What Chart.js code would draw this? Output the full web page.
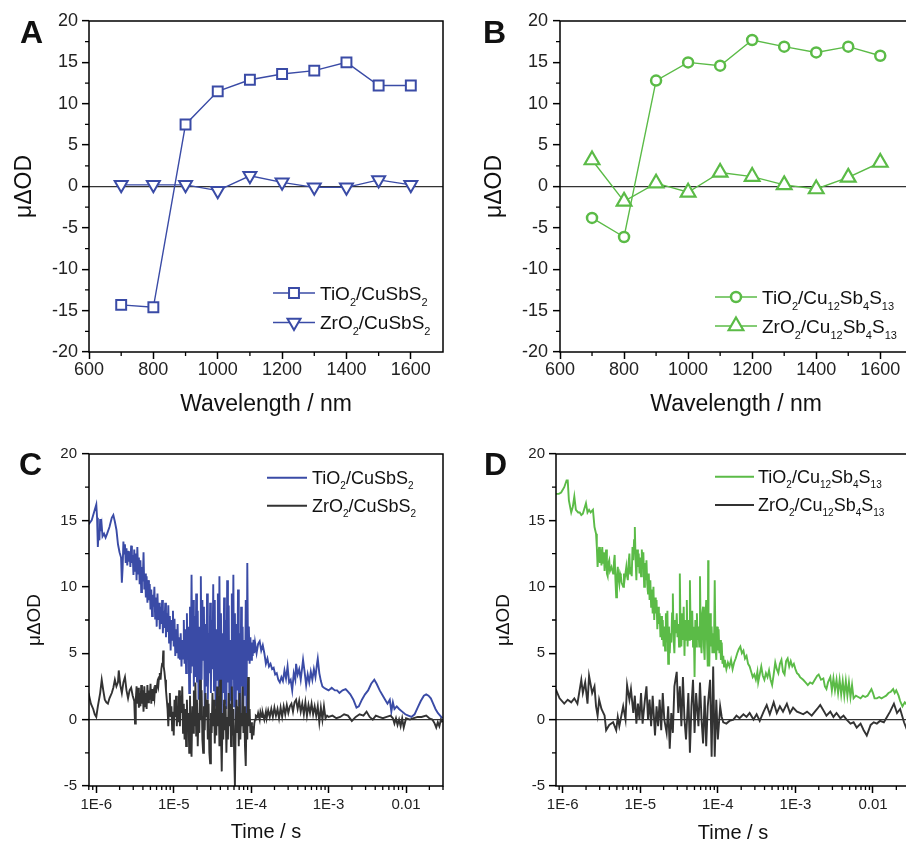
<!DOCTYPE html>
<html><head><meta charset="utf-8">
<script src="https://cdn.jsdelivr.net/npm/chart.js@4.4.1/dist/chart.umd.min.js"></script>
<style>
html,body{margin:0;padding:0;background:#fff;overflow:hidden;width:906px;height:843px;position:relative;}
.p{position:absolute;}
.p canvas{display:block;}
.lab{position:absolute;font:bold 32px 'Liberation Sans',Arial,sans-serif;line-height:32px;color:#111;}
</style></head><body>
<div class="p" style="left:0;top:0;width:453px;height:420px"><canvas id="cA" width="453" height="420"></canvas></div>
<div class="p" style="left:453px;top:0;width:470px;height:420px"><canvas id="cB" width="470" height="420"></canvas></div>
<div class="p" style="left:0;top:420px;width:453px;height:430px"><canvas id="cC" width="453" height="430"></canvas></div>
<div class="p" style="left:453px;top:420px;width:470px;height:430px"><canvas id="cD" width="470" height="430"></canvas></div>
<div class="lab" style="left:20px;top:16px">A</div>
<div class="lab" style="left:483px;top:16px">B</div>
<div class="lab" style="left:19px;top:448px">C</div>
<div class="lab" style="left:484px;top:448px">D</div>
<script>
// ---------- data ----------
const wavelengths = [700, 800, 900, 1000, 1100, 1200, 1300, 1400, 1500, 1600];
const A_TiO2 = [-14.3, -14.6, 7.5, 11.5, 12.9, 13.6, 14.0, 15.0, 12.2, 12.2];
const A_ZrO2 = [0.2, 0.2, 0.2, -0.5, 1.3, 0.5, -0.1, -0.1, 0.8, 0.2];
const B_TiO2 = [-3.8, -6.1, 12.8, 15.0, 14.6, 17.7, 16.9, 16.2, 16.9, 15.8];
const B_ZrO2 = [3.2, -1.8, 0.4, -0.7, 1.7, 1.2, 0.2, -0.3, 1.1, 2.9];

const wlTicks = [600, 800, 1000, 1200, 1400, 1600];
const wlMinor = [700, 900, 1100, 1300, 1500];
const odTicksAB = [-20, -15, -10, -5, 0, 5, 10, 15, 20];
const odMinorAB = [-17.5, -12.5, -7.5, -2.5, 2.5, 7.5, 12.5, 17.5];
const odTicksCD = [-5, 0, 5, 10, 15, 20];
const odMinorCD = [-2.5, 2.5, 7.5, 12.5, 17.5];
const timeTicks = [1e-6, 1e-5, 1e-4, 1e-3, 0.01];
const timeTickLabels = ['1E-6', '1E-5', '1E-4', '1E-3', '0.01'];

const labelsCuSbS2 = ['TiO_2/CuSbS_2', 'ZrO_2/CuSbS_2'];
const labelsCu12 = ['TiO_2/Cu_12Sb_4S_13', 'ZrO_2/Cu_12Sb_4S_13'];

// transient traces: [log10(time / s), µΔOD]
const C_TiO2 = [[-6.10,14.7],[-6.06,15.0],[-6.03,15.6],[-6.00,16.2],[-5.99,15.2],[-5.98,13.0],[-5.97,14.2],[-5.96,13.5],[-5.95,15.1],[-5.94,14.2],[-5.93,14.6],[-5.92,13.8],[-5.90,14.0],[-5.88,13.7],[-5.86,14.0],[-5.83,14.5],[-5.80,15.2],[-5.78,15.4],[-5.76,14.9],[-5.74,14.3],[-5.72,13.2],[-5.70,12.6],[-5.68,12.2],[-5.67,10.3],[-5.66,11.4],[-5.65,13.4],[-5.64,12.5],[-5.63,13.2],[-5.62,11.8],[-5.61,12.9],[-5.60,11.6],[-5.59,12.7],[-5.58,11.9],[-5.57,12.6],[-5.56,11.5],[-5.55,13.1],[-5.54,11.8],[-5.53,12.4],[-5.52,10.9],[-5.51,12.8],[-5.50,11.2],[-5.49,12.5],[-5.48,10.5],[-5.47,13.0],[-5.46,11.0],[-5.45,12.2],[-5.44,10.2],[-5.43,12.0],[-5.42,9.6],[-5.41,11.5],[-5.40,10.4],[-5.39,12.6],[-5.38,9.8],[-5.37,11.0],[-5.36,9.2],[-5.35,10.8],[-5.34,8.8],[-5.33,10.5],[-5.32,9.0],[-5.31,10.2],[-5.30,8.3],[-5.29,9.8],[-5.28,7.8],[-5.27,9.4],[-5.26,8.5],[-5.25,10.0],[-5.24,7.6],[-5.23,9.2],[-5.22,7.0],[-5.21,9.5],[-5.20,7.5],[-5.19,8.8],[-5.18,6.8],[-5.17,8.5],[-5.16,7.2],[-5.15,9.0],[-5.14,6.5],[-5.13,8.2],[-5.12,6.9],[-5.11,8.8],[-5.10,6.2],[-5.09,8.0],[-5.08,6.6],[-5.07,8.6],[-5.06,5.8],[-5.05,7.8],[-5.04,5.2],[-5.03,7.5],[-5.02,6.0],[-5.01,8.2],[-5.00,5.5],[-4.99,7.6],[-4.98,4.8],[-4.97,6.8],[-4.96,5.0],[-4.95,7.2],[-4.94,4.6],[-4.93,6.2],[-4.92,4.5],[-4.91,6.5],[-4.90,4.0],[-4.89,6.0],[-4.88,4.6],[-4.87,7.5],[-4.86,4.2],[-4.85,6.8],[-4.84,3.5],[-4.83,8.0],[-4.82,4.5],[-4.81,7.0],[-4.80,2.0],[-4.79,8.5],[-4.78,3.5],[-4.77,10.9],[-4.76,4.0],[-4.75,9.0],[-4.74,2.5],[-4.73,7.8],[-4.72,3.2],[-4.71,9.5],[-4.70,2.8],[-4.69,8.2],[-4.68,1.5],[-4.67,7.0],[-4.66,2.2],[-4.65,10.8],[-4.64,3.0],[-4.63,9.0],[-4.62,4.5],[-4.61,8.5],[-4.60,0.8],[-4.59,7.2],[-4.58,2.5],[-4.57,9.5],[-4.56,1.5],[-4.55,6.5],[-4.54,3.5],[-4.53,8.8],[-4.52,2.0],[-4.51,7.5],[-4.50,3.8],[-4.49,10.2],[-4.48,2.2],[-4.47,9.0],[-4.46,1.0],[-4.45,6.8],[-4.44,3.0],[-4.43,9.5],[-4.42,1.8],[-4.41,10.8],[-4.40,2.5],[-4.39,8.0],[-4.38,0.5],[-4.37,6.5],[-4.36,2.0],[-4.35,9.2],[-4.34,1.2],[-4.33,7.5],[-4.32,0.8],[-4.31,10.5],[-4.30,2.8],[-4.29,8.6],[-4.28,0.2],[-4.27,6.0],[-4.26,1.5],[-4.25,9.5],[-4.24,3.0],[-4.23,10.9],[-4.22,1.0],[-4.21,8.0],[-4.20,0.0],[-4.19,7.2],[-4.18,2.2],[-4.17,9.8],[-4.16,1.0],[-4.15,6.5],[-4.14,0.3],[-4.13,8.5],[-4.12,2.5],[-4.11,7.0],[-4.10,0.5],[-4.09,6.0],[-4.08,1.8],[-4.07,9.0],[-4.06,0.0],[-4.05,11.8],[-4.04,4.5],[-4.03,7.0],[-4.02,4.2],[-4.01,6.2],
[-4.00,4.5],[-3.99,5.8],[-3.98,4.8],[-3.97,6.0],[-3.96,5.0],[-3.95,5.8],[-3.93,5.0],[-3.91,5.7],[-3.89,5.9],[-3.87,5.2],[-3.85,5.6],[-3.83,5.0],[-3.81,4.2],[-3.79,4.6],[-3.77,4.0],[-3.75,4.2],[-3.73,3.8],[-3.71,3.9],[-3.69,3.4],[-3.67,3.5],[-3.65,3.0],[-3.63,2.8],[-3.61,3.2],[-3.59,2.9],[-3.57,3.7],[-3.55,3.1],[-3.53,4.0],[-3.51,2.8],[-3.49,3.0],[-3.47,2.2],[-3.45,3.5],[-3.43,3.0],[-3.42,4.2],[-3.40,3.4],[-3.38,3.8],[-3.36,3.0],[-3.34,4.0],[-3.33,4.5],[-3.31,3.6],[-3.29,2.6],[-3.27,3.4],[-3.25,2.8],[-3.23,3.6],[-3.21,3.0],[-3.19,3.8],[-3.17,3.2],[-3.15,4.2],[-3.14,4.6],[-3.12,3.5],[-3.10,2.9],[-3.08,2.5],[-3.06,2.4],[-3.03,2.3],[-3.00,2.2],[-2.96,2.4],[-2.92,2.2],[-2.89,2.2],[-2.86,2.0],[-2.82,2.2],[-2.78,2.3],[-2.75,2.1],[-2.72,1.9],[-2.68,1.5],[-2.64,0.9],[-2.61,1.0],[-2.57,1.5],[-2.53,1.9],[-2.49,2.2],[-2.45,2.7],[-2.41,3.0],[-2.38,2.7],[-2.34,2.2],[-2.30,1.8],[-2.27,1.5],[-2.24,1.2],[-2.21,1.5],[-2.19,0.6],[-2.17,1.3],[-2.15,0.8],[-2.12,1.0],[-2.09,0.8],[-2.05,0.6],[-2.01,0.4],[-1.97,0.3],[-1.93,0.2],[-1.89,0.4],[-1.85,0.9],[-1.81,1.4],[-1.77,1.8],[-1.74,1.9],[-1.71,1.8],[-1.68,1.6],[-1.65,1.2],[-1.62,0.8],[-1.59,0.5],[-1.56,0.3],[-1.53,0.1]];

const C_ZrO2 = [[-6.10,2.0],[-6.07,1.2],[-6.04,0.8],[-6.02,0.4],[-6.00,0.2],[-5.98,1.0],[-5.95,2.0],[-5.93,3.0],[-5.91,2.2],[-5.89,1.5],[-5.87,1.3],[-5.85,1.2],[-5.83,1.6],[-5.80,2.0],[-5.78,2.4],[-5.76,3.0],[-5.74,2.5],[-5.72,2.8],[-5.71,3.7],[-5.69,2.6],[-5.67,2.0],[-5.65,2.8],[-5.63,3.2],[-5.61,2.2],[-5.59,1.6],[-5.57,2.2],[-5.55,2.4],[-5.53,1.8],[-5.51,1.4],[-5.50,-0.3],[-5.49,1.5],[-5.48,2.5],[-5.47,1.2],[-5.46,2.4],[-5.45,0.9],[-5.44,2.0],[-5.43,1.0],[-5.42,2.6],[-5.41,1.2],[-5.40,2.2],[-5.39,0.6],[-5.38,2.5],[-5.37,1.0],[-5.36,2.0],[-5.35,0.8],[-5.34,2.6],[-5.33,1.3],[-5.32,2.2],[-5.31,1.5],[-5.30,2.7],[-5.29,1.2],[-5.28,2.3],[-5.27,1.4],[-5.26,2.0],[-5.25,1.6],[-5.24,2.6],[-5.23,2.0],[-5.22,2.4],[-5.21,2.8],[-5.20,2.5],[-5.19,3.2],[-5.18,3.5],[-5.17,3.0],[-5.16,3.8],[-5.15,4.2],[-5.14,4.6],[-5.135,5.2],[-5.13,4.0],[-5.12,3.6],[-5.11,3.0],[-5.10,2.2],[-5.09,1.5],[-5.08,0.8],[-5.07,-0.5],[-5.06,1.2],[-5.05,2.0],[-5.04,0.2],[-5.03,1.0],[-5.02,-0.8],[-5.01,0.6],[-5.00,-1.2],[-4.99,1.5],[-4.98,0.2],[-4.97,1.8],[-4.96,-0.5],[-4.95,1.0],[-4.94,-0.2],[-4.93,2.2],[-4.92,-0.5],[-4.91,1.8],[-4.90,0.5],[-4.89,2.5],[-4.88,-1.0],[-4.87,1.2],[-4.86,-1.5],[-4.85,0.8],[-4.84,-2.0],[-4.83,1.5],[-4.82,-0.8],[-4.81,0.5],[-4.80,-2.5],[-4.79,1.8],[-4.78,-1.5],[-4.77,-2.8],[-4.76,1.0],[-4.75,-1.0],[-4.74,2.2],[-4.73,-0.5],[-4.72,2.8],[-4.71,-1.2],[-4.70,1.5],[-4.69,-2.0],[-4.68,0.5],[-4.67,-1.0],[-4.66,3.0],[-4.65,0.0],[-4.64,2.2],[-4.63,-1.5],[-4.62,-2.5],[-4.61,1.0],[-4.60,-0.8],[-4.59,2.0],[-4.58,0.2],[-4.57,1.5],[-4.56,-1.5],[-4.55,1.2],[-4.54,-2.5],[-4.53,-3.3],[-4.52,0.5],[-4.51,-1.0],[-4.50,2.0],[-4.49,-0.5],[-4.48,1.5],[-4.47,-1.8],[-4.46,0.8],[-4.45,-1.2],[-4.44,2.5],[-4.43,-0.5],[-4.42,1.8],[-4.41,-2.0],[-4.40,3.0],[-4.39,-1.0],[-4.38,-3.9],[-4.37,0.5],[-4.36,-1.5],[-4.35,1.5],[-4.34,-0.8],[-4.33,1.0],[-4.32,-2.5],[-4.31,0.2],[-4.30,-1.5],[-4.29,2.0],[-4.28,-0.5],[-4.27,1.2],[-4.26,-2.0],[-4.25,2.5],[-4.24,-1.2],[-4.23,0.8],[-4.22,-2.5],[-4.21,-5.0],[-4.20,-0.5],[-4.19,1.5],[-4.18,-1.0],[-4.17,1.0],[-4.16,-2.0],[-4.15,2.0],[-4.14,-1.5],[-4.13,0.5],[-4.12,-0.5],[-4.11,2.5],[-4.10,-1.0],[-4.09,1.0],[-4.08,-2.0],[-4.07,-3.5],[-4.06,0.5],[-4.05,-1.5],[-4.04,3.2],[-4.03,-0.5],[-4.02,0.8],[-4.01,-1.0],[-4.00,-0.2],[-3.99,-1.5],[-3.98,-0.5],[-3.97,-1.2],[-3.96,-0.3],[-3.95,0.0],[-3.94,0.3],[-3.92,0.2],[-3.91,0.5],[-3.89,0.0],[-3.88,0.6],[-3.86,0.2],[-3.85,0.5],[-3.83,0.0],[-3.81,0.6],[-3.80,0.1],[-3.78,0.7],[-3.76,0.2],[-3.74,0.8],[-3.72,0.2],[-3.70,0.9],[-3.68,0.3],[-3.66,0.8],[-3.64,0.1],[-3.62,0.9],[-3.60,0.2],[-3.58,1.0],[-3.56,0.4],[-3.54,1.1],[-3.52,0.5],[-3.50,1.0],[-3.48,1.2],[-3.46,0.6],[-3.44,1.3],[-3.42,1.5],[-3.40,0.8],[-3.38,1.4],[-3.36,0.6],[-3.34,1.2],[-3.32,0.4],[-3.30,1.3],[-3.28,0.3],[-3.26,1.1],[-3.24,0.5],[-3.22,1.2],[-3.20,0.4],[-3.18,1.0],[-3.16,0.3],[-3.14,1.0],[-3.12,-0.2],[-3.10,0.9],[-3.08,0.0],[-3.06,1.0],[-3.04,0.1],[-3.02,0.3],[-3.00,0.2],[-2.95,0.3],[-2.90,0.1],[-2.85,0.2],[-2.80,0.4],[-2.75,0.3],[-2.70,-0.1],[-2.65,0.2],[-2.60,0.4],[-2.55,0.3],[-2.51,0.6],[-2.47,0.2],[-2.43,0.0],[-2.39,0.3],[-2.35,0.2],[-2.30,0.1],[-2.25,0.2],[-2.20,0.3],[-2.17,0.1],[-2.15,-0.3],[-2.13,0.1],[-2.11,-0.4],[-2.09,0.0],[-2.07,-0.5],[-2.05,0.1],[-2.03,-0.6],[-2.00,0.1],[-1.95,0.0],[-1.91,0.1],[-1.85,0.2],[-1.80,0.2],[-1.74,0.3],[-1.70,0.1],[-1.66,0.0],[-1.63,-0.3],[-1.61,-0.6],[-1.59,-0.2],[-1.57,-0.5],[-1.55,0.0],[-1.53,-0.2]];

const D_TiO2 = [[-6.09,17.0],[-6.05,17.0],[-6.02,17.1],[-5.98,17.5],[-5.95,18.0],[-5.935,18.0],[-5.92,16.5],[-5.89,15.6],[-5.87,16.0],[-5.85,16.8],[-5.83,15.8],[-5.80,15.6],[-5.78,15.6],[-5.76,15.4],[-5.74,15.5],[-5.72,15.9],[-5.70,16.3],[-5.68,15.6],[-5.66,15.8],[-5.64,15.6],[-5.61,15.8],[-5.59,14.5],[-5.57,14.0],[-5.56,13.0],[-5.55,11.5],[-5.54,12.5],[-5.53,13.0],[-5.52,11.8],[-5.51,12.8],[-5.50,11.6],[-5.49,13.0],[-5.48,11.8],[-5.47,12.6],[-5.46,11.2],[-5.45,12.2],[-5.44,12.8],[-5.43,11.0],[-5.42,10.8],[-5.41,11.8],[-5.40,12.0],[-5.39,11.2],[-5.37,11.5],[-5.35,11.0],[-5.34,11.8],[-5.33,12.4],[-5.32,10.5],[-5.31,9.2],[-5.30,10.8],[-5.29,11.5],[-5.28,10.6],[-5.27,10.2],[-5.26,11.0],[-5.25,10.8],[-5.24,10.3],[-5.22,10.0],[-5.21,11.0],[-5.20,10.6],[-5.18,11.5],[-5.17,10.8],[-5.16,10.5],[-5.15,11.8],[-5.14,12.5],[-5.13,11.0],[-5.12,11.5],[-5.11,10.8],[-5.10,13.0],[-5.09,12.0],[-5.08,13.5],[-5.07,14.5],[-5.06,12.0],[-5.05,10.5],[-5.04,12.8],[-5.03,11.5],[-5.02,12.5],[-5.01,11.0],[-5.00,12.2],[-4.99,10.8],[-4.98,12.8],[-4.97,11.5],[-4.96,12.6],[-4.95,10.0],[-4.94,11.8],[-4.93,10.5],[-4.92,12.0],[-4.91,10.2],[-4.90,9.5],[-4.89,11.0],[-4.88,9.0],[-4.87,10.5],[-4.86,8.5],[-4.85,9.8],[-4.84,8.0],[-4.83,10.0],[-4.82,7.5],[-4.81,9.2],[-4.80,8.0],[-4.79,9.0],[-4.78,6.8],[-4.77,8.5],[-4.76,7.2],[-4.75,8.0],[-4.74,6.2],[-4.73,7.8],[-4.72,6.0],[-4.71,7.5],[-4.70,5.5],[-4.69,7.0],[-4.68,5.2],[-4.67,8.0],[-4.66,5.8],[-4.65,8.2],[-4.64,4.2],[-4.63,7.0],[-4.62,5.0],[-4.61,6.5],[-4.60,5.8],[-4.59,8.0],[-4.58,9.5],[-4.57,6.0],[-4.56,5.0],[-4.55,7.5],[-4.54,6.5],[-4.53,8.0],[-4.52,6.2],[-4.51,7.2],[-4.50,5.5],[-4.49,11.0],[-4.48,6.5],[-4.47,5.5],[-4.46,8.0],[-4.45,6.0],[-4.44,8.5],[-4.43,4.8],[-4.42,7.5],[-4.41,6.0],[-4.40,9.0],[-4.39,5.5],[-4.38,7.5],[-4.37,6.0],[-4.36,10.5],[-4.35,6.5],[-4.34,6.0],[-4.33,8.2],[-4.32,5.5],[-4.31,7.0],[-4.30,3.2],[-4.29,7.5],[-4.28,5.5],[-4.27,8.0],[-4.26,6.0],[-4.25,7.0],[-4.24,5.5],[-4.23,10.8],[-4.22,6.0],[-4.21,5.0],[-4.20,8.0],[-4.19,8.5],[-4.18,5.5],[-4.17,4.5],[-4.16,7.5],[-4.15,9.0],[-4.14,6.0],[-4.13,4.0],[-4.125,12.0],[-4.12,6.5],[-4.11,4.0],[-4.10,8.0],[-4.09,5.5],[-4.08,7.0],[-4.07,5.0],[-4.06,6.5],[-4.05,5.0],[-4.04,10.5],[-4.03,5.5],[-4.02,4.5],[-4.01,7.0],[-4.00,5.2],[-3.99,6.8],[-3.98,5.0],[-3.97,6.0],[-3.96,4.5],[-3.95,5.8],[-3.94,4.2],[-3.93,4.8],[-3.92,4.0],[-3.91,4.5],[-3.89,3.8],[-3.87,4.3],[-3.85,4.0],[-3.83,4.5],[-3.81,3.8],[-3.79,4.3],[-3.77,4.6],[-3.75,5.0],[-3.73,5.3],[-3.71,5.5],[-3.69,5.0],[-3.67,5.2],[-3.65,4.6],[-3.63,4.8],[-3.61,4.2],[-3.59,4.0],[-3.57,3.6],[-3.55,3.2],[-3.53,3.4],[-3.51,3.0],[-3.49,3.6],[-3.48,2.8],[-3.46,3.4],[-3.44,4.0],[-3.42,3.3],[-3.40,3.0],[-3.38,3.5],[-3.36,3.2],[-3.34,3.7],[-3.32,3.0],[-3.30,2.6],[-3.28,3.4],[-3.26,4.3],[-3.24,3.8],[-3.22,3.5],[-3.20,4.2],[-3.18,4.5],[-3.16,3.6],[-3.14,3.4],[-3.12,4.4],[-3.10,4.6],[-3.08,4.0],[-3.06,4.4],[-3.04,4.0],[-3.02,4.2],[-3.00,3.8],[-2.98,3.5],[-2.96,3.4],[-2.94,3.2],[-2.90,3.0],[-2.87,2.8],[-2.84,2.6],[-2.81,2.8],[-2.78,2.7],[-2.75,3.0],[-2.72,3.3],[-2.70,3.4],[-2.67,3.0],[-2.64,3.1],[-2.62,2.5],[-2.60,2.3],[-2.58,2.8],[-2.55,3.2],[-2.53,2.2],[-2.51,3.1],[-2.49,2.2],[-2.47,3.0],[-2.45,2.0],[-2.43,3.0],[-2.41,1.9],[-2.39,2.9],[-2.37,1.8],[-2.35,2.9],[-2.33,1.8],[-2.31,2.8],[-2.29,1.7],[-2.27,2.6],[-2.25,1.6],[-2.22,1.8],[-2.19,1.7],[-2.16,1.6],[-2.13,1.8],[-2.10,1.7],[-2.07,1.8],[-2.04,2.1],[-2.02,2.3],[-2.00,2.0],[-1.98,1.6],[-1.95,1.6],[-1.92,1.7],[-1.89,1.6],[-1.86,1.7],[-1.83,1.8],[-1.80,2.0],[-1.77,2.1],[-1.74,2.3],[-1.72,2.0],[-1.70,2.2],[-1.67,1.8],[-1.65,1.4],[-1.62,1.0],[-1.59,1.3],[-1.56,1.1],[-1.52,1.2]];

const D_ZrO2 = [[-6.09,2.3],[-6.04,1.6],[-5.98,1.2],[-5.935,1.5],[-5.89,1.3],[-5.85,1.6],[-5.81,1.2],[-5.76,3.0],[-5.74,2.0],[-5.71,2.8],[-5.68,1.2],[-5.66,3.3],[-5.62,2.0],[-5.59,2.5],[-5.57,1.0],[-5.55,0.3],[-5.53,1.5],[-5.50,0.8],[-5.46,0.3],[-5.44,-0.8],[-5.40,-0.4],[-5.35,-0.2],[-5.31,-0.8],[-5.29,0.2],[-5.27,-0.5],[-5.22,1.0],[-5.19,0.0],[-5.17,2.6],[-5.14,1.5],[-5.12,2.3],[-5.09,0.5],[-5.07,1.8],[-5.05,-0.3],[-5.03,1.2],[-5.01,0.0],[-4.99,2.0],[-4.97,-0.3],[-4.94,1.5],[-4.92,2.5],[-4.90,0.0],[-4.88,1.5],[-4.86,-0.5],[-4.84,1.8],[-4.81,-1.2],[-4.79,1.0],[-4.77,-0.5],[-4.75,1.5],[-4.73,-0.8],[-4.71,2.0],[-4.69,0.0],[-4.66,-1.0],[-4.64,1.0],[-4.62,-2.2],[-4.60,0.5],[-4.58,-1.0],[-4.56,2.5],[-4.53,3.6],[-4.51,0.5],[-4.49,2.5],[-4.47,-0.5],[-4.45,3.2],[-4.43,0.0],[-4.41,-1.5],[-4.38,2.0],[-4.36,-2.5],[-4.34,1.0],[-4.32,3.0],[-4.30,-1.0],[-4.28,2.0],[-4.25,-0.5],[-4.23,2.8],[-4.21,0.0],[-4.19,-1.8],[-4.17,1.8],[-4.15,-2.0],[-4.13,1.0],[-4.10,3.0],[-4.08,-2.8],[-4.06,4.0],[-4.04,-2.8],[-4.02,1.5],[-4.00,-1.5],[-3.97,1.0],[-3.95,0.2],[-3.93,-0.2],[-3.89,-0.3],[-3.85,-0.1],[-3.80,0.0],[-3.76,0.3],[-3.72,0.1],[-3.67,0.4],[-3.63,0.2],[-3.59,0.5],[-3.54,0.0],[-3.50,0.4],[-3.46,-0.1],[-3.41,0.6],[-3.37,1.1],[-3.33,0.4],[-3.28,1.3],[-3.24,0.5],[-3.20,1.0],[-3.16,0.6],[-3.11,1.2],[-3.07,0.5],[-3.03,0.9],[-2.98,0.6],[-2.94,0.5],[-2.90,0.4],[-2.85,0.6],[-2.79,0.3],[-2.72,0.8],[-2.68,1.1],[-2.64,0.7],[-2.60,0.3],[-2.55,0.6],[-2.51,0.2],[-2.47,0.5],[-2.42,0.1],[-2.38,0.3],[-2.34,0.0],[-2.29,-0.3],[-2.25,-0.2],[-2.21,-0.6],[-2.16,-0.3],[-2.12,-0.8],[-2.08,-1.2],[-2.03,-0.4],[-1.99,-0.2],[-1.95,-0.3],[-1.91,-0.1],[-1.86,-0.2],[-1.82,0.2],[-1.78,0.6],[-1.73,1.2],[-1.69,0.5],[-1.65,0.8],[-1.60,-0.2],[-1.56,-0.8]];

// ---------- style ----------
const FONT = "'Liberation Sans', Arial, Helvetica, sans-serif";
const BLUE = '#3A4BA6';
const GREEN = '#5BBB47';
const DARK = '#333333';

// ---------- plugins ----------
function drawMarker(ctx, m, x, y, color) {
  ctx.save();
  ctx.lineWidth = m.bw; ctx.strokeStyle = color; ctx.fillStyle = '#fff';
  ctx.beginPath();
  const r = m.r;
  if (m.style === 'rect') {
    const s = Math.SQRT1_2 * r;
    ctx.rect(x - s, y - s, 2 * s, 2 * s);
  } else if (m.style === 'circle') {
    ctx.arc(x, y, r, 0, Math.PI * 2);
  } else if (m.style === 'triangle') {
    const rot = (m.rot || 0) * Math.PI / 180;
    for (let k = 0; k < 3; k++) {
      const a = rot + k * 2 * Math.PI / 3;
      const px = x + Math.sin(a) * r, py = y - Math.cos(a) * r;
      if (k === 0) ctx.moveTo(px, py); else ctx.lineTo(px, py);
    }
    ctx.closePath();
  }
  ctx.fill(); ctx.stroke();
  ctx.restore();
}
function drawRich(ctx, text, x, y, size, subSize, subOff, color) {
  const parts = text.split(/_(\d+)/);
  ctx.fillStyle = color; ctx.textBaseline = 'alphabetic'; ctx.textAlign = 'left';
  parts.forEach((t, i) => {
    if (!t) return;
    const sub = i % 2 === 1;
    ctx.font = (sub ? subSize : size) + 'px ' + FONT;
    ctx.fillText(t, x, sub ? y + subOff : y);
    x += ctx.measureText(t).width;
  });
}
const framePlugin = {
  id: 'frame',
  afterDatasetsDraw(chart) {
    const {ctx, chartArea: a} = chart;
    ctx.save(); ctx.strokeStyle = '#000'; ctx.lineWidth = 1.5;
    ctx.strokeRect(a.left, a.top, a.right - a.left, a.bottom - a.top);
    ctx.restore();
  }
};
const minorPlugin = {
  id: 'minor',
  afterDraw(chart, args, o) {
    const {ctx, chartArea: a, scales} = chart;
    ctx.save(); ctx.strokeStyle = '#000'; ctx.lineWidth = 1.3; ctx.beginPath();
    (o.x || []).forEach(v => { const p = scales.x.getPixelForValue(v); if (p < a.left - 0.5 || p > a.right + 0.5) return; ctx.moveTo(p, a.bottom); ctx.lineTo(p, a.bottom + o.len); });
    (o.y || []).forEach(v => { const p = scales.y.getPixelForValue(v); ctx.moveTo(a.left, p); ctx.lineTo(a.left - o.len, p); });
    ctx.stroke(); ctx.restore();
  }
};
const legendPlugin = {
  id: 'richLegend',
  afterDraw(chart, args, o) {
    const ctx = chart.ctx;
    ctx.save();
    o.items.forEach(it => {
      ctx.strokeStyle = it.color; ctx.lineWidth = it.lw;
      ctx.beginPath(); ctx.moveTo(it.x1, it.y); ctx.lineTo(it.x2, it.y); ctx.stroke();
      if (it.marker) drawMarker(ctx, it.marker, it.mx, it.y, it.color);
      drawRich(ctx, it.label, it.tx, it.y + o.base, o.size, o.subSize, o.subOff, '#111');
    });
    ctx.restore();
  }
};

// ---------- chart builder ----------
function makeChart(id, c) {
  const zeroGrid = {
    drawOnChartArea: true, drawTicks: true, tickLength: 7, tickWidth: 1.5, tickColor: '#000',
    color: (g) => (g.tick && g.tick.value === 0) ? '#333' : 'rgba(0,0,0,0)',
    lineWidth: 1.3
  };
  return new Chart(document.getElementById(id), {
    type: 'line',
    data: {datasets: c.datasets},
    options: {
      responsive: false, animation: false, events: [],
      layout: {padding: {left: 0, top: c.padTop, right: c.padRight, bottom: 0}},
      plugins: {
        legend: {display: false}, tooltip: {enabled: false},
        minor: {x: c.xMinor, y: c.yMinor, len: 4},
        richLegend: c.legend
      },
      scales: {
        x: {
          type: c.xType, min: c.xMin, max: c.xMax,
          afterBuildTicks: (s) => { s.ticks = c.xTicks.map(v => ({value: v})); },
          afterFit: (s) => { s.height = c.xH; },
          border: {display: false},
          grid: {drawOnChartArea: false, drawTicks: true, tickLength: 7, tickWidth: 1.5, tickColor: '#000'},
          ticks: {font: {family: FONT, size: c.tickSize}, color: '#222', padding: c.xTickPad, maxRotation: 0, autoSkip: false,
                  callback: (v, i) => c.xLabels ? c.xLabels[i] : String(c.xTicks[i])},
          title: {display: true, text: c.xTitle, color: '#111', font: {family: FONT, size: c.xTitleSize}, padding: {top: 0, bottom: c.xTitlePad}}
        },
        y: {
          type: 'linear', min: c.yMin, max: c.yMax,
          afterBuildTicks: (s) => { s.ticks = c.yTicks.map(v => ({value: v})); },
          afterFit: (s) => { s.width = c.yW; },
          border: {display: false},
          grid: zeroGrid,
          ticks: {font: {family: FONT, size: c.tickSize}, color: '#222', padding: c.yTickPad,
                  callback: (v, i) => String(c.yTicks[i])},
          title: {display: true, text: 'μΔOD', color: '#111', font: {family: FONT, size: c.yTitleSize}, padding: {top: c.yTitlePad, bottom: 0}}
        }
      }
    },
    plugins: [framePlugin, minorPlugin, legendPlugin]
  });
}

function specData(ys, color, style, r, bw, rot) {
  return {
    data: wavelengths.map((w, i) => ({x: w, y: ys[i]})),
    borderColor: color, borderWidth: 1.4, backgroundColor: '#fff',
    pointStyle: style, pointRadius: r, pointBorderWidth: bw, pointRotation: rot || 0,
    pointBackgroundColor: '#fff', pointBorderColor: color, tension: 0, fill: false
  };
}
function traceData(arr, color, order) {
  return {
    data: arr.map(p => ({x: Math.pow(10, p[0]), y: p[1]})),
    borderColor: color, borderWidth: 1.9, pointRadius: 0, tension: 0, fill: false, order: order
  };
}

// minor ticks of the log axis: 2..9 x each decade
const logMinor = [];
for (let e = -7; e <= -2; e++) for (let m = 2; m <= 9; m++) logMinor.push(m * Math.pow(10, e));

// Panel A
makeChart('cA', {
  datasets: [specData(A_TiO2, BLUE, 'rect', 7, 2), specData(A_ZrO2, BLUE, 'triangle', 7.5, 2, 180)],
  padTop: 21, padRight: 10, yW: 89, xH: 68,
  xType: 'linear', xMin: 600, xMax: 1700, xTicks: wlTicks, xMinor: wlMinor,
  yMin: -20, yMax: 20, yTicks: odTicksAB, yMinor: odMinorAB,
  tickSize: 18, xTickPad: 0, yTickPad: 4,
  xTitle: 'Wavelength / nm', xTitleSize: 23, xTitlePad: 1.2,
  yTitleSize: 23, yTitlePad: 11.2,
  legend: {size: 19, subSize: 11, subOff: 6, base: 6.5, items: [
    {x1: 273, x2: 315, mx: 294, y: 293, tx: 320, color: BLUE, lw: 1.4, label: labelsCuSbS2[0], marker: {style: 'rect', r: 7, bw: 2}},
    {x1: 273, x2: 315, mx: 294, y: 322.5, tx: 320, color: BLUE, lw: 1.4, label: labelsCuSbS2[1], marker: {style: 'triangle', r: 7.5, bw: 2, rot: 180}}
  ]}
});

// Panel B
makeChart('cB', {
  datasets: [specData(B_TiO2, GREEN, 'circle', 5, 2.5), specData(B_ZrO2, GREEN, 'triangle', 8.5, 2.2)],
  padTop: 21, padRight: 8, yW: 107, xH: 68,
  xType: 'linear', xMin: 600, xMax: 1700, xTicks: wlTicks, xMinor: wlMinor,
  yMin: -20, yMax: 20, yTicks: odTicksAB, yMinor: odMinorAB,
  tickSize: 18, xTickPad: 0, yTickPad: 5,
  xTitle: 'Wavelength / nm', xTitleSize: 23, xTitlePad: 1.2,
  yTitleSize: 23, yTitlePad: 27.7,
  legend: {size: 19, subSize: 11, subOff: 6, base: 6.5, items: [
    {x1: 262, x2: 304, mx: 283, y: 297, tx: 309, color: GREEN, lw: 1.4, label: labelsCu12[0], marker: {style: 'circle', r: 5, bw: 2.5}},
    {x1: 262, x2: 304, mx: 283, y: 326, tx: 309, color: GREEN, lw: 1.4, label: labelsCu12[1], marker: {style: 'triangle', r: 8.5, bw: 2.2}}
  ]}
});

// Panel C
makeChart('cC', {
  datasets: [traceData(C_TiO2, BLUE, 2), traceData(C_ZrO2, DARK, 1)],
  padTop: 34, padRight: 10, yW: 89, xH: 64,
  xType: 'logarithmic', xMin: 8.05e-7, xMax: 0.03, xTicks: timeTicks, xLabels: timeTickLabels, xMinor: logMinor,
  yMin: -5, yMax: 20, yTicks: odTicksCD, yMinor: odMinorCD,
  tickSize: 15, xTickPad: 2.5, yTickPad: 5,
  xTitle: 'Time / s', xTitleSize: 20, xTitlePad: 6,
  yTitleSize: 19, yTitlePad: 23.6,
  legend: {size: 18, subSize: 10, subOff: 5, base: 6.3, items: [
    {x1: 267, x2: 307, y: 57.7, tx: 312, color: BLUE, lw: 2, label: labelsCuSbS2[0]},
    {x1: 267, x2: 307, y: 85.7, tx: 312, color: DARK, lw: 2, label: labelsCuSbS2[1]}
  ]}
});

// Panel D
makeChart('cD', {
  datasets: [traceData(D_TiO2, GREEN, 2), traceData(D_ZrO2, DARK, 1)],
  padTop: 34, padRight: 13, yW: 103, xH: 64,
  xType: 'logarithmic', xMin: 8.2e-7, xMax: 0.03, xTicks: timeTicks, xLabels: timeTickLabels, xMinor: logMinor,
  yMin: -5, yMax: 20, yTicks: odTicksCD, yMinor: odMinorCD,
  tickSize: 15, xTickPad: 2.5, yTickPad: 4,
  xTitle: 'Time / s', xTitleSize: 20, xTitlePad: 5,
  yTitleSize: 19, yTitlePad: 39.1,
  legend: {size: 18, subSize: 10, subOff: 5, base: 6.3, items: [
    {x1: 262, x2: 301, y: 56.7, tx: 305, color: GREEN, lw: 2, label: labelsCu12[0]},
    {x1: 262, x2: 301, y: 85, tx: 305, color: DARK, lw: 2, label: labelsCu12[1]}
  ]}
});
</script>
</body></html>
